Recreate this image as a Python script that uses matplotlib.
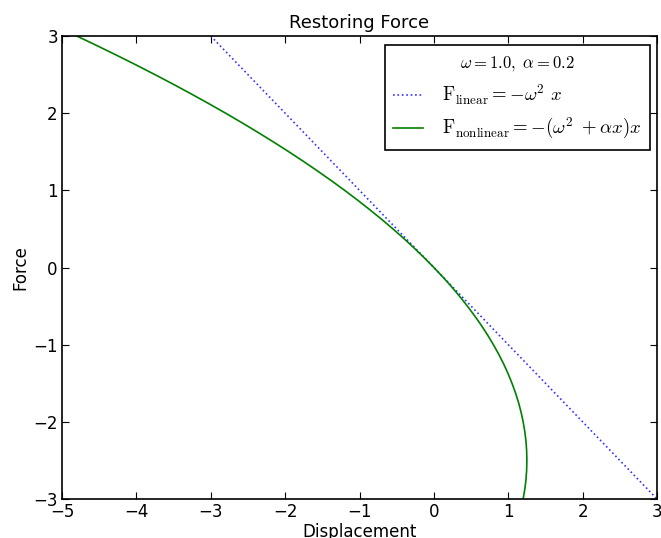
import matplotlib
matplotlib.use("Agg")
import matplotlib.pyplot as plt

plt.rcParams['mathtext.fontset'] = 'cm'

# Linear force line endpoints
lin_x = [-3.0, 3.0]
lin_f = [3.0, -3.0]

# Nonlinear curve: force values and displacement
nl_f = [-3.0, -2.875, -2.75, -2.625, -2.5, -2.375, -2.25, -2.125, -2.0, -1.875,
        -1.75, -1.625, -1.5, -1.375, -1.25, -1.125, -1.0, -0.875, -0.75, -0.625,
        -0.5, -0.375, -0.25, -0.125, 0.0, 0.125, 0.25, 0.375, 0.5, 0.625,
        0.75, 0.875, 1.0, 1.125, 1.25, 1.375, 1.5, 1.625, 1.75, 1.875,
        2.0, 2.125, 2.25, 2.375, 2.5, 2.625, 2.75, 2.875, 3.0]
nl_x = [1.2, 1.222, 1.238, 1.247, 1.25, 1.247, 1.238, 1.222, 1.2, 1.172,
        1.138, 1.097, 1.05, 0.997, 0.938, 0.872, 0.8, 0.722, 0.638, 0.547,
        0.45, 0.347, 0.238, 0.122, 0.0, -0.128, -0.263, -0.403, -0.55, -0.703,
        -0.863, -1.028, -1.2, -1.378, -1.563, -1.753, -1.95, -2.153, -2.363, -2.578,
        -2.8, -3.028, -3.263, -3.503, -3.75, -4.003, -4.263, -4.528, -4.8]

xticks = [-5, -4, -3, -2, -1, 0, 1, 2, 3]
yticks = [-3, -2, -1, 0, 1, 2, 3]

fig = plt.figure(figsize=(6.61, 5.38), dpi=100)
ax = fig.add_axes([0.0938, 0.0725, 0.9002, 0.8605])

ax.plot(lin_x, lin_f, color='#3333ff', ls=':', lw=1.2, label=r'$\mathrm{F_{linear}} = -\omega^2\ x$')
ax.plot(nl_x, nl_f, color='green', lw=1.2, label=r'$\mathrm{F_{nonlinear}} = -(\omega^2\ + \alpha x) x$')

ax.set_xlim(-5, 3)
ax.set_ylim(-3, 3)
ax.set_xticks(xticks)
ax.set_yticks(yticks)
ax.tick_params(direction='in', top=True, right=True, labelsize=12, length=5, pad=3)
for s in ax.spines.values():
    s.set_linewidth(1.2)

ax.set_title('Restoring Force', fontsize=13)
ax.set_xlabel('Displacement', fontsize=12, labelpad=1)
ax.set_ylabel('Force', fontsize=12, labelpad=3)

leg = ax.legend(loc='upper right', title=r'$\omega=1.0,\ \alpha=0.2$', fontsize=13.5,
                title_fontsize=12, fancybox=False, framealpha=1, edgecolor='black',
                handlelength=1.6, handletextpad=1.0, borderpad=0.45,
                borderaxespad=0, bbox_to_anchor=(0.988, 0.98))
leg.get_frame().set_linewidth(1.2)

fig.savefig('out.png', dpi=100)
